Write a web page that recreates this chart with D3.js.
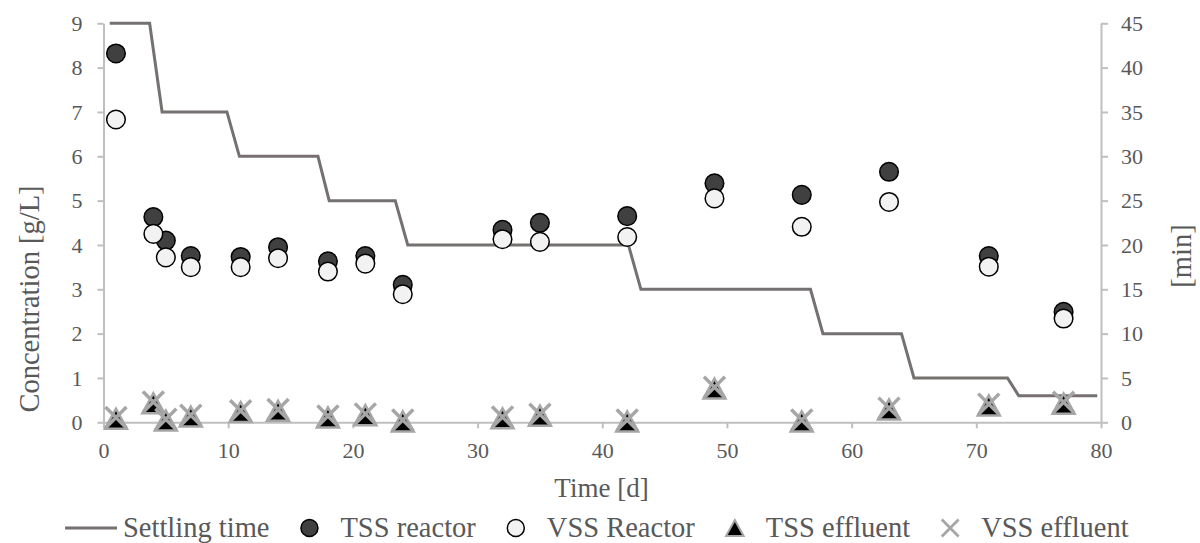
<!DOCTYPE html>
<html lang="en">
  <head>
    <meta charset="UTF-8" />
    <script src="https://d3js.org/d3.v7.min.js"></script>
    <title>Settling time and solids</title>
    <style>
      body { margin: 0; background: #fff; }
      svg text { font-family: "Times New Roman", Times, "Liberation Serif", Tinos, "Noto Serif", "DejaVu Serif", FreeSerif, serif; fill: #595959; }
    </style>
  </head>
  <body>
    <svg id="chart" width="1200" height="543"></svg>

    <script>
      // sampling days
      const days = [1, 4, 5, 7, 11, 14, 18, 21, 24, 32, 35, 42, 49, 56, 63, 71, 77];
      const tssReactor = [8.32, 4.63, 4.1, 3.75, 3.73, 3.95, 3.63, 3.75, 3.1, 4.34, 4.5, 4.65, 5.39, 5.13, 5.65, 3.75, 2.49];
      const vssReactor = [6.83, 4.25, 3.72, 3.5, 3.5, 3.7, 3.4, 3.58, 2.89, 4.13, 4.07, 4.18, 5.05, 4.41, 4.97, 3.51, 2.34];
      const tssEffluent = [0.08, 0.43, 0.04, 0.13, 0.23, 0.26, 0.11, 0.16, 0.02, 0.09, 0.15, 0.02, 0.76, 0.02, 0.29, 0.38, 0.42];
      const vssEffluent = [0.11, 0.46, 0.07, 0.16, 0.26, 0.29, 0.14, 0.19, 0.05, 0.12, 0.18, 0.05, 0.79, 0.05, 0.32, 0.41, 0.45];

      // settling time (secondary axis, min)
      const settleDays = [0.5, 3.7, 4.7, 9.9, 10.9, 17.2, 18.1, 23.4, 24.4, 42.1, 43.1, 56.7, 57.7, 64, 65, 72.5, 73.4, 79.7];
      const settleMin = [45, 45, 35, 35, 30, 30, 25, 25, 20, 20, 15, 15, 10, 10, 5, 5, 3, 3];

      const xTicks = [0, 10, 20, 30, 40, 50, 60, 70, 80];
      const yLeftTicks = [0, 1, 2, 3, 4, 5, 6, 7, 8, 9];
      const yRightTicks = [0, 5, 10, 15, 20, 25, 30, 35, 40, 45];

      const svg = d3.select("#chart");
      const plotLeft = 103.5, plotRight = 1101, plotTop = 23.3, plotBottom = 422.3;
      const axisColor = "#bfbfbf";

      const x = d3.scaleLinear().domain([0, 80]).range([plotLeft, plotRight]);
      const yL = d3.scaleLinear().domain([0, 9]).range([plotBottom, plotTop]);
      const yR = d3.scaleLinear().domain([0, 45]).range([plotBottom, plotTop]);

      function styleAxis(g) {
        g.attr("font-family", null).attr("font-size", null);
        g.select(".domain").attr("stroke", axisColor).attr("stroke-width", 2);
        g.selectAll(".tick line").attr("stroke", axisColor).attr("stroke-width", 2);
        g.selectAll(".tick text").attr("fill", "#595959").style("font-size", "22px");
      }

      svg.append("g")
        .attr("transform", `translate(${plotLeft},0)`)
        .call(d3.axisLeft(yL).tickValues(yLeftTicks).tickSize(6).tickSizeOuter(0).tickPadding(15))
        .call(styleAxis);

      svg.append("g")
        .attr("transform", `translate(${plotRight},0)`)
        .call(d3.axisRight(yR).tickValues(yRightTicks).tickSize(7).tickSizeOuter(0).tickPadding(13))
        .call(styleAxis);

      svg.append("g")
        .attr("transform", `translate(0,${plotBottom})`)
        .call(d3.axisBottom(x).tickValues(xTicks).tickSize(6).tickSizeOuter(0).tickPadding(14))
        .call(styleAxis);

      // axis titles
      svg.append("text")
        .attr("x", 601.5).attr("y", 497)
        .attr("text-anchor", "middle")
        .style("font-size", "27px")
        .text("Time [d]");

      svg.append("text")
        .attr("transform", "translate(39,299) rotate(-90)")
        .attr("text-anchor", "middle")
        .style("font-size", "28.5px")
        .text("Concentration [g/L]");

      svg.append("text")
        .attr("transform", "translate(1191,256) rotate(-90)")
        .attr("text-anchor", "middle")
        .style("font-size", "28.5px")
        .text("[min]");

      // settling time line
      const line = d3.line().x(d => x(d[0])).y(d => yR(d[1]));
      svg.append("path")
        .datum(d3.zip(settleDays, settleMin))
        .attr("d", line)
        .attr("fill", "none")
        .attr("stroke", "#767171")
        .attr("stroke-width", 3)
        .attr("stroke-linejoin", "miter");

      const triPath = "M0,-10L11,10L-11,10Z";
      const crossPath = "M-10.5,-10.5L10.5,10.5M-10.5,10.5L10.5,-10.5";

      function circles(values, fill) {
        svg.append("g").selectAll("circle")
          .data(d3.zip(days, values))
          .join("circle")
          .attr("cx", d => x(d[0]))
          .attr("cy", d => yL(d[1]))
          .attr("r", 9.3)
          .attr("fill", fill)
          .attr("stroke", "#000")
          .attr("stroke-width", 1.5);
      }
      circles(tssReactor, "#404040");
      circles(vssReactor, "#f2f2f2");

      svg.append("g").selectAll("path")
        .data(d3.zip(days, tssEffluent))
        .join("path")
        .attr("transform", d => `translate(${x(d[0])},${yL(d[1])})`)
        .attr("d", triPath)
        .attr("fill", "#000")
        .attr("stroke", "#a6a6a6")
        .attr("stroke-width", 2.5);

      svg.append("g").selectAll("path")
        .data(d3.zip(days, vssEffluent))
        .join("path")
        .attr("transform", d => `translate(${x(d[0])},${yL(d[1])})`)
        .attr("d", crossPath)
        .attr("fill", "none")
        .attr("stroke", "#a6a6a6")
        .attr("stroke-width", 3.5);

      // legend
      const legendItems = [
        { name: "Settling time", kind: "line" },
        { name: "TSS reactor", kind: "circle", fill: "#404040" },
        { name: "VSS Reactor", kind: "circle", fill: "#f2f2f2" },
        { name: "TSS effluent", kind: "tri" },
        { name: "VSS effluent", kind: "cross" }
      ];
      const legend = svg.append("g");
      const ly = 528, baseline = 537;
      let cursor = 65;
      legendItems.forEach(item => {
        let tx;
        if (item.kind === "line") {
          legend.append("line")
            .attr("x1", cursor).attr("x2", cursor + 52)
            .attr("y1", ly).attr("y2", ly)
            .attr("stroke", "#767171").attr("stroke-width", 3);
          tx = cursor + 58;
        } else {
          const cx = cursor + 9;
          if (item.kind === "circle") {
            legend.append("circle")
              .attr("cx", cx).attr("cy", ly).attr("r", 8.5)
              .attr("fill", item.fill).attr("stroke", "#000").attr("stroke-width", 1.5);
          } else if (item.kind === "tri") {
            legend.append("path")
              .attr("transform", `translate(${cx},${ly}) scale(0.8)`)
              .attr("d", triPath)
              .attr("fill", "#000").attr("stroke", "#a6a6a6").attr("stroke-width", 2.5);
          } else {
            legend.append("path")
              .attr("transform", `translate(${cx},${ly}) scale(0.8)`)
              .attr("d", crossPath)
              .attr("fill", "none").attr("stroke", "#a6a6a6").attr("stroke-width", 3.5);
          }
          tx = cx + 31;
        }
        const t = legend.append("text")
          .attr("x", tx).attr("y", baseline)
          .style("font-size", "28.5px")
          .text(item.name);
        cursor = tx + t.node().getComputedTextLength() + 31;
      });
    </script>
  </body>
</html>
